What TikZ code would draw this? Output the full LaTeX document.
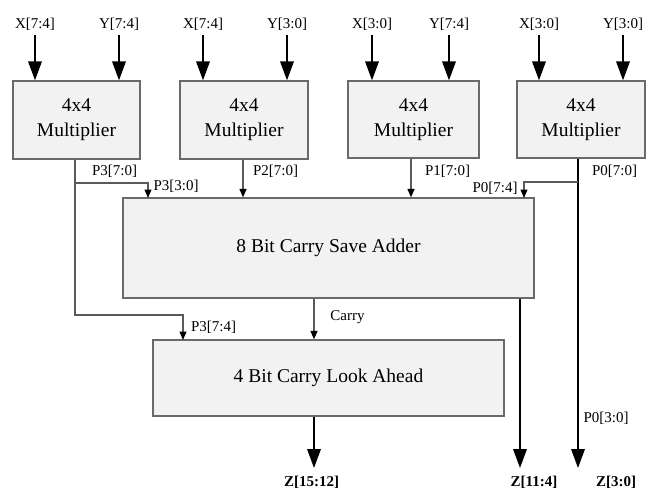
\documentclass[tikz,border=0pt]{standalone}
\usepackage{fontspec}
\setmainfont{Liberation Serif}
\usetikzlibrary{arrows.meta}
\definecolor{boxfill}{HTML}{F2F2F2}
\definecolor{boxline}{HTML}{6A6A6A}
\definecolor{wire}{HTML}{5A5A5A}
\tikzset{
  blk/.style={draw=boxline, line width=1.3pt, fill=boxfill, align=center,
    font=\fontsize{19.5}{25}\selectfont, inner sep=0pt},
  lbl/.style={font=\fontsize{15}{18}\selectfont, inner sep=0pt},
  zlbl/.style={font=\fontsize{15}{18}\selectfont\bfseries, inner sep=0pt},
  bigarr/.style={draw=black, line width=1.9pt, -{Triangle[length=19pt,width=13.5pt]}},
  thinwire/.style={draw=wire, line width=1.2pt},
  smallarr/.style={draw=wire, line width=1.2pt, -{Triangle[length=8.5pt,width=7pt,color=black]}}
}
\begin{document}
\begin{tikzpicture}[x=1pt,y=-1pt]
\useasboundingbox (0,0) rectangle (654,491);

% multiplier blocks
\node[blk, minimum width=127pt, minimum height=78pt] (m1) at (76.5,120) {4x4\\Multiplier};
\node[blk, minimum width=128pt, minimum height=78pt] (m2) at (244,120) {4x4\\Multiplier};
\node[blk, minimum width=131pt, minimum height=77pt] (m3) at (413.5,119.5) {4x4\\Multiplier};
\node[blk, minimum width=128pt, minimum height=77pt] (m4) at (581,119.5) {4x4\\Multiplier};

% adders
\node[blk, minimum width=411pt, minimum height=100pt] (csa) at (328.5,248) {8 Bit Carry Save Adder};
\node[blk, minimum width=351pt, minimum height=76pt] (la) at (328.5,378) {4 Bit Carry Look Ahead};

% input labels
\node[lbl] (x1) at (35,24.5) {X[7:4]};
\node[lbl] (y1) at (119,24.5) {Y[7:4]};
\node[lbl] (x2) at (203,24.5) {X[7:4]};
\node[lbl] (y2) at (287,24.5) {Y[3:0]};
\node[lbl] (x3) at (372,24.5) {X[3:0]};
\node[lbl] (y3) at (449,24.5) {Y[7:4]};
\node[lbl] (x4) at (539,24.5) {X[3:0]};
\node[lbl] (y4) at (623,24.5) {Y[3:0]};

\foreach \l/\m in {x1/m1,y1/m1,x2/m2,y2/m2,x3/m3,y3/m3,x4/m4,y4/m4}
  \draw[bigarr] ([yshift=-4pt]\l.south) -- (\l.south |- \m.north);

% wire labels
\node[lbl] (lp3) at (114.5,171) {P3[7:0]};
\node[lbl] (lp3l) at (176,186) {P3[3:0]};
\node[lbl] (lp2) at (275.5,171) {P2[7:0]};
\node[lbl] (lp1) at (447.5,171) {P1[7:0]};
\node[lbl] (lp0) at (614.5,171) {P0[7:0]};
\node[lbl] (lp0h) at (495,188) {P0[7:4]};
\node[lbl] (lp3h) at (213.5,327) {P3[7:4]};
\node[lbl] (lcarry) at (347.5,317) {Carry};
\node[lbl] (lp0l) at (606,418) {P0[3:0]};

% output labels
\node[zlbl] (z1) at (311.5,482) {Z[15:12]};
\node[zlbl] (z2) at (534,482) {Z[11:4]};
\node[zlbl] (z3) at (616,482) {Z[3:0]};

% coordinates
\coordinate (j3) at (75,183);
\coordinate (j3b) at (75,315);
\coordinate (csa3) at (148,198);
\coordinate (la3) at (183,340);
\coordinate (j0) at (578,182);
\coordinate (csa0) at (524,198);
\coordinate (t1) at (314,468);
\coordinate (t2) at (520,468);
\coordinate (t3) at (578,468);

% P3 routing
\draw[thinwire] (m1.south -| j3) -- (j3);
\draw[smallarr] (j3) -- (j3b) -| (la3);
\draw[smallarr] (j3) -| (csa3);

% P2, P1
\draw[smallarr] ([xshift=-1pt]m2.south) -- ([xshift=-1pt]m2.south |- csa.north);
\draw[smallarr] ([xshift=-2.5pt]m3.south) -- ([xshift=-2.5pt]m3.south |- csa.north);

% P0
\draw[bigarr] (m4.south -| t3) -- (t3);
\draw[smallarr] (j0) -| (csa0);

% carry
\draw[smallarr] (csa.south -| t1) -- (la.north -| t1);

% outputs
\draw[bigarr] (la.south -| t1) -- (t1);
\draw[bigarr] (csa.south -| t2) -- (t2);
\end{tikzpicture}
\end{document}
